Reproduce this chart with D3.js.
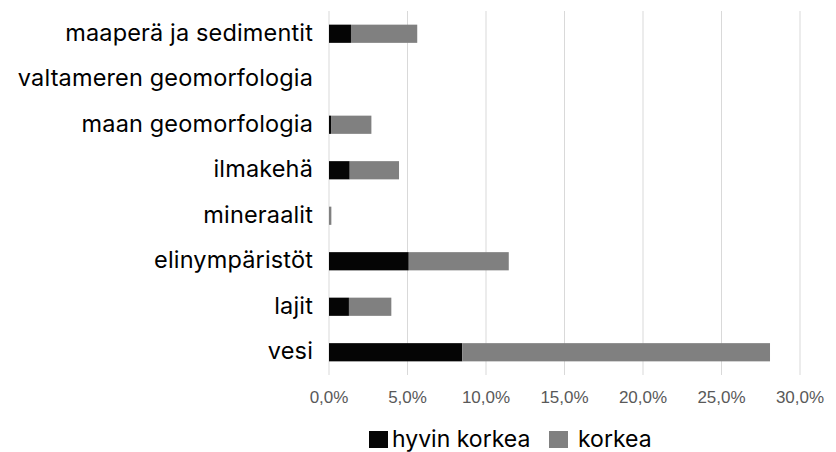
<!DOCTYPE html>
<html>
<head>
<meta charset="utf-8">
<script src="https://cdn.jsdelivr.net/npm/d3@7"></script>
<style>
  body { margin: 0; background: #fff; }
  svg { display: block; }
</style>
</head>
<body>
<script>
// data, top row first
var categories = ["maaperä ja sedimentit", "valtameren geomorfologia", "maan geomorfologia",
  "ilmakehä", "mineraalit", "elinympäristöt", "lajit", "vesi"];
var hyvinKorkea = [1.4, 0, 0.13, 1.32, 0, 5.08, 1.27, 8.49];
var korkea = [4.22, 0, 2.57, 3.14, 0.15, 6.37, 2.7, 19.6];
var seriesNames = ["hyvin korkea", "korkea"];
var seriesColors = ["#050505", "#808080"];
var xTicks = [0, 5, 10, 15, 20, 25, 30];

var width = 836, height = 452;
var margin = {top: 11, right: 36, bottom: 77, left: 329};

var svg = d3.select("body").append("svg")
  .attr("width", width)
  .attr("height", height);

var x = d3.scaleLinear().domain([0, 30]).range([margin.left, width - margin.right]);
var y = d3.scaleBand().domain(categories).range([margin.top, height - margin.bottom]).paddingInner(0.6).paddingOuter(0.3);

// gridlines
svg.append("g")
  .selectAll("line")
  .data(xTicks)
  .enter().append("line")
  .attr("x1", function(d){ return x(d); })
  .attr("x2", function(d){ return x(d); })
  .attr("y1", margin.top)
  .attr("y2", height - margin.bottom)
  .attr("stroke", "#d9d9d9")
  .attr("stroke-width", 1);

// stacked bars
var rows = categories.map(function(c, i){
  return {cat: c, vals: [hyvinKorkea[i], korkea[i]]};
});
rows.forEach(function(r){
  var start = 0;
  r.vals.forEach(function(v, j){
    if (v > 0) {
      svg.append("rect")
        .attr("x", x(start))
        .attr("y", y(r.cat))
        .attr("width", x(start + v) - x(start))
        .attr("height", y.bandwidth())
        .attr("fill", seriesColors[j]);
    }
    start += v;
  });
});

// category labels
svg.append("g")
  .selectAll("text")
  .data(categories)
  .enter().append("text")
  .attr("x", margin.left - 16)
  .attr("y", function(d){ return y(d) + y.bandwidth()/2 + 7; })
  .attr("text-anchor", "end")
  .style("font-family", "Inter, 'Noto Sans', sans-serif")
  .style("font-size", "23.5px")
  .style("letter-spacing", "0.15px")
  .style("fill", "#000")
  .text(function(d){ return d; });

// x tick labels
svg.append("g")
  .selectAll("text")
  .data(xTicks)
  .enter().append("text")
  .attr("x", function(d){ return x(d); })
  .attr("y", 403)
  .attr("text-anchor", "middle")
  .style("font-family", "'Liberation Sans', Arial, sans-serif")
  .style("font-size", "17px")
  .style("fill", "#595959")
  .text(function(d){ return d3.format(".1f")(d).replace(".", ",") + "%"; });

// legend
var legendX = [369, 549];
var legend = svg.append("g");
seriesNames.forEach(function(n, i){
  legend.append("rect")
    .attr("x", legendX[i])
    .attr("y", 431)
    .attr("width", 19)
    .attr("height", 17)
    .attr("fill", seriesColors[i]);
  legend.append("text")
    .attr("x", legendX[i] + (i == 0 ? 23 : 29))
    .attr("y", 447)
    .style("font-family", "Inter, 'Noto Sans', sans-serif")
    .style("font-size", "23px")
    .style("fill", "#000")
    .text(n);
});
</script>
</body>
</html>
